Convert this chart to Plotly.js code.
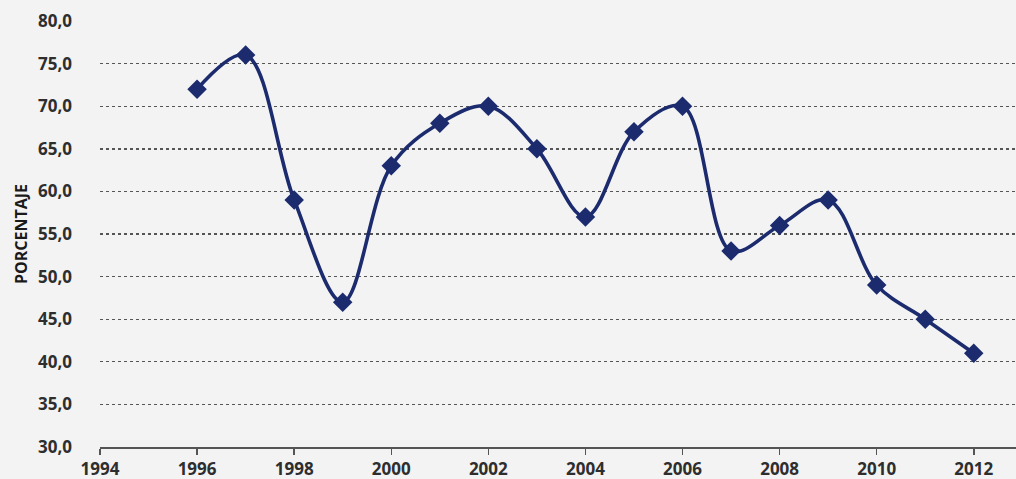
<!DOCTYPE html>
<html>
<head>
<meta charset="utf-8">
<script src="https://cdn.plot.ly/plotly-3.0.1.min.js"></script>
<style>
  html, body { margin: 0; padding: 0; background: #f3f3f3; }
  #chart { width: 1016px; height: 479px; }
</style>
</head>
<body>
<div id="chart"></div>
<script>
// Annual percentage series, 1996-2012
const years = [1996, 1997, 1998, 1999, 2000, 2001, 2002, 2003, 2004, 2005, 2006, 2007, 2008, 2009, 2010, 2011, 2012];
const porcentaje = [72, 76, 59, 47, 63, 68, 70, 65, 57, 67, 70, 53, 56, 59, 49, 45, 41];

const yTicks = [30, 35, 40, 45, 50, 55, 60, 65, 70, 75, 80];
const xTicks = [1994, 1996, 1998, 2000, 2002, 2004, 2006, 2008, 2010, 2012];

const navy = '#1b2b6e';
const labelFont = { family: 'Open Sans, Lato, sans-serif', size: 17, color: '#2e2e2e', weight: 700 };

const trace = {
  x: years,
  y: porcentaje,
  type: 'scatter',
  mode: 'lines+markers',
  line: { color: navy, width: 3.6, shape: 'spline', smoothing: 1 },
  marker: { symbol: 'diamond', size: 15, color: navy },
  cliponaxis: false,
  hoverinfo: 'x+y'
};

const layout = {
  width: 1016,
  height: 479,
  margin: { l: 100, r: 0, t: 21, b: 32 },
  paper_bgcolor: '#f3f3f3',
  plot_bgcolor: '#f3f3f3',
  separators: ',.',
  showlegend: false,
  xaxis: {
    range: [1994, 2012.87],
    tickvals: xTicks,
    ticktext: xTicks.map(String),
    ticks: 'outside',
    ticklen: 6,
    tickwidth: 1.5,
    tickcolor: '#555',
    showline: true,
    linecolor: '#555',
    linewidth: 1.5,
    showgrid: false,
    zeroline: false,
    tickfont: labelFont
  },
  yaxis: {
    range: [30, 80],
    tickvals: yTicks,
    tickformat: '.1f',
    showline: false,
    showgrid: true,
    gridcolor: '#555',
    griddash: 'dot',
    gridwidth: 1.4,
    zeroline: false,
    ticks: '',
    ticklabelstandoff: 27,
    tickfont: labelFont,
    title: {
      text: 'PORCENTAJE',
      font: { family: 'Open Sans, Lato, sans-serif', size: 16, color: '#1a1a1a', weight: 700 },
      standoff: 6
    }
  }
};

Plotly.newPlot('chart', [trace], layout, { displayModeBar: false, staticPlot: true });
</script>
</body>
</html>
